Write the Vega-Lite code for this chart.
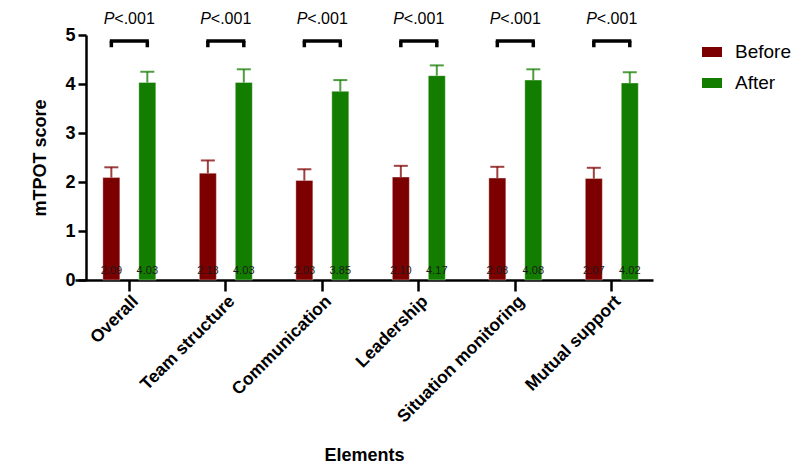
{
  "$schema": "https://vega.github.io/schema/vega-lite/v6.json",
  "width": 578,
  "height": 245,
  "autosize": {"type": "none"},
  "padding": {"left": 75, "top": 35, "right": 147, "bottom": 196},
  "background": "white",
  "config": {
    "font": "Liberation Sans",
    "view": {"stroke": null},
    "axis": {
      "domainColor": "black",
      "domainWidth": 2.5,
      "tickColor": "black",
      "tickWidth": 2.5,
      "labelColor": "black",
      "titleColor": "black",
      "labelFont": "Liberation Sans",
      "titleFont": "Liberation Sans",
      "labelFontWeight": "bold",
      "titleFontWeight": "bold",
      "grid": false
    }
  },
  "datasets": {
    "scores": [
      {"element": "Overall", "group": "Before", "value": 2.09, "upper": 2.30},
      {"element": "Overall", "group": "After", "value": 4.03, "upper": 4.25},
      {"element": "Team structure", "group": "Before", "value": 2.18, "upper": 2.44},
      {"element": "Team structure", "group": "After", "value": 4.03, "upper": 4.30},
      {"element": "Communication", "group": "Before", "value": 2.03, "upper": 2.26},
      {"element": "Communication", "group": "After", "value": 3.85, "upper": 4.08},
      {"element": "Leadership", "group": "Before", "value": 2.10, "upper": 2.33},
      {"element": "Leadership", "group": "After", "value": 4.17, "upper": 4.38},
      {"element": "Situation monitoring", "group": "Before", "value": 2.08, "upper": 2.31},
      {"element": "Situation monitoring", "group": "After", "value": 4.08, "upper": 4.30},
      {"element": "Mutual support", "group": "Before", "value": 2.07, "upper": 2.29},
      {"element": "Mutual support", "group": "After", "value": 4.02, "upper": 4.24}
    ],
    "tests": [
      {"element": "Overall", "p": "<.001", "top": 4.88, "legBottom": 4.75, "textY": 5.33},
      {"element": "Team structure", "p": "<.001", "top": 4.88, "legBottom": 4.75, "textY": 5.33},
      {"element": "Communication", "p": "<.001", "top": 4.88, "legBottom": 4.75, "textY": 5.33},
      {"element": "Leadership", "p": "<.001", "top": 4.88, "legBottom": 4.75, "textY": 5.33},
      {"element": "Situation monitoring", "p": "<.001", "top": 4.88, "legBottom": 4.75, "textY": 5.33},
      {"element": "Mutual support", "p": "<.001", "top": 4.88, "legBottom": 4.75, "textY": 5.33}
    ],
    "legs": [
      {"element": "Overall", "group": "Before", "top": 4.88, "legBottom": 4.75},
      {"element": "Overall", "group": "After", "top": 4.88, "legBottom": 4.75},
      {"element": "Team structure", "group": "Before", "top": 4.88, "legBottom": 4.75},
      {"element": "Team structure", "group": "After", "top": 4.88, "legBottom": 4.75},
      {"element": "Communication", "group": "Before", "top": 4.88, "legBottom": 4.75},
      {"element": "Communication", "group": "After", "top": 4.88, "legBottom": 4.75},
      {"element": "Leadership", "group": "Before", "top": 4.88, "legBottom": 4.75},
      {"element": "Leadership", "group": "After", "top": 4.88, "legBottom": 4.75},
      {"element": "Situation monitoring", "group": "Before", "top": 4.88, "legBottom": 4.75},
      {"element": "Situation monitoring", "group": "After", "top": 4.88, "legBottom": 4.75},
      {"element": "Mutual support", "group": "Before", "top": 4.88, "legBottom": 4.75},
      {"element": "Mutual support", "group": "After", "top": 4.88, "legBottom": 4.75}
    ]
  },
  "encoding": {
    "x": {
      "field": "element",
      "type": "nominal",
      "sort": ["Overall", "Team structure", "Communication", "Leadership", "Situation monitoring", "Mutual support"],
      "scale": {"paddingInner": 0.42, "paddingOuter": 0.205, "align": 0.666},
      "axis": {
        "title": "Elements",
        "titleFontSize": 18,
        "titleY": 175,
        "titleBaseline": "middle",
        "labelAngle": -45,
        "labelFontSize": 17.5,
        "labelPadding": 1,
        "tickSize": 11
      }
    }
  },
  "layer": [
    {
      "data": {"name": "scores"},
      "mark": {"type": "bar", "stroke": "white", "strokeOpacity": 0.35, "strokeWidth": 1},
      "encoding": {
        "xOffset": {"field": "group", "type": "nominal", "sort": ["Before", "After"], "scale": {"paddingInner": 0.528, "paddingOuter": 0.042}},
        "y": {
          "field": "value",
          "type": "quantitative",
          "scale": {"domain": [0, 5], "nice": false},
          "axis": {
            "title": "mTPOT score",
            "titleFontSize": 18,
            "titlePadding": 15,
            "values": [0, 1, 2, 3, 4, 5],
            "labelFontSize": 18,
            "tickSize": 8,
            "labelPadding": 3,
            "offset": -11
          }
        },
        "color": {
          "field": "group",
          "type": "nominal",
          "sort": ["Before", "After"],
          "scale": {"domain": ["Before", "After"], "range": ["#7d0000", "#137d00"]},
          "legend": {
            "title": null,
            "orient": "none",
            "legendX": 627,
            "legendY": 7,
            "padding": 0,
            "symbolType": "M-1,-0.5H1V0.5H-1Z",
            "symbolSize": 400,
            "symbolStrokeWidth": 0,
            "symbolOpacity": 1,
            "labelFontSize": 19,
            "labelColor": "black",
            "labelOffset": 13,
            "rowPadding": 11
          }
        }
      }
    },
    {
      "data": {"name": "scores"},
      "mark": {"type": "rule", "strokeWidth": 2, "opacity": 0.75},
      "encoding": {
        "xOffset": {"field": "group", "type": "nominal", "sort": ["Before", "After"]},
        "y": {"field": "value", "type": "quantitative"},
        "y2": {"field": "upper"},
        "color": {"field": "group", "type": "nominal", "sort": ["Before", "After"]}
      }
    },
    {
      "data": {"name": "scores"},
      "mark": {"type": "tick", "thickness": 2, "size": 14, "opacity": 0.75},
      "encoding": {
        "xOffset": {"field": "group", "type": "nominal", "sort": ["Before", "After"]},
        "y": {"field": "upper", "type": "quantitative"},
        "color": {"field": "group", "type": "nominal", "sort": ["Before", "After"]}
      }
    },
    {
      "data": {"name": "scores"},
      "mark": {"type": "text", "fontSize": 11, "color": "#1a1a1a", "baseline": "middle", "dy": -9},
      "encoding": {
        "xOffset": {"field": "group", "type": "nominal", "sort": ["Before", "After"]},
        "y": {"datum": 0},
        "text": {"field": "value", "type": "quantitative", "format": ".2f"}
      }
    },
    {
      "data": {"name": "tests"},
      "mark": {"type": "tick", "thickness": 3.5, "size": 39, "color": "black", "opacity": 1},
      "encoding": {
        "y": {"field": "top", "type": "quantitative"}
      }
    },
    {
      "data": {"name": "legs"},
      "mark": {"type": "rule", "strokeWidth": 3.5, "color": "black", "opacity": 1},
      "encoding": {
        "xOffset": {"field": "group", "type": "nominal", "sort": ["Before", "After"]},
        "y": {"field": "legBottom", "type": "quantitative"},
        "y2": {"field": "top"}
      }
    },
    {
      "data": {"name": "tests"},
      "mark": {"type": "text", "text": "P", "fontStyle": "italic", "fontSize": 16, "align": "right", "baseline": "middle", "dx": -15, "color": "black"},
      "encoding": {
        "y": {"field": "textY", "type": "quantitative"}
      }
    },
    {
      "data": {"name": "tests"},
      "mark": {"type": "text", "fontSize": 16, "align": "left", "baseline": "middle", "dx": -15, "color": "black"},
      "encoding": {
        "y": {"field": "textY", "type": "quantitative"},
        "text": {"field": "p"}
      }
    }
  ]
}
